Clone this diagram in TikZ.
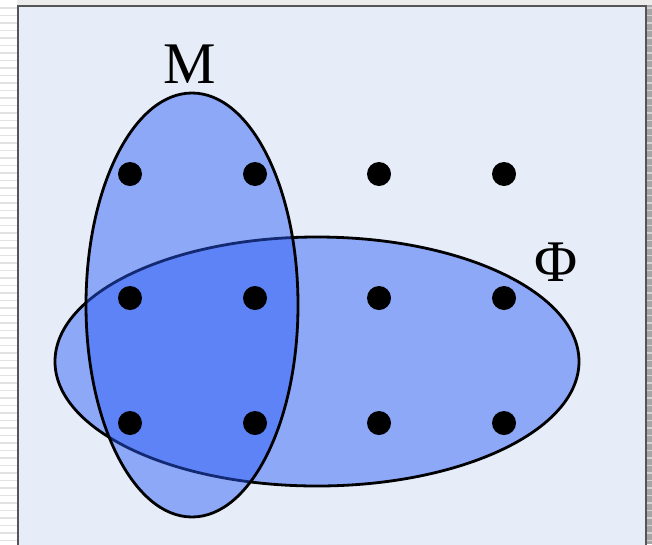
\documentclass[tikz,border=0pt]{standalone}
\usepackage{fontspec}
\setmainfont{Liberation Serif}
\usetikzlibrary{shapes.geometric}
\definecolor{panelbg}{RGB}{230,237,248}
\definecolor{panelline}{RGB}{85,85,85}
\definecolor{setblue}{RGB}{41,91,246}
\definecolor{stripe}{RGB}{226,226,226}
\tikzset{
  x=1pt, y=-1pt,
  setshape/.style={ellipse, draw=black, line width=2.8pt, fill=setblue, fill opacity=0.47, draw opacity=1, inner sep=0pt},
  pt/.style={circle, fill=black, minimum size=24pt, inner sep=0pt},
  lbl/.style={font=\fontsize{59}{62}\selectfont, inner sep=0pt}
}
\begin{document}
\begin{tikzpicture}
\useasboundingbox (0,0) rectangle (652,544);
\fill[white] (0,0) rectangle (652,544);
% left striped margin
\foreach \y in {7,14.5,...,544}{
  \fill[stripe] (0,\y) rectangle (17,\y+1.8);
}
% right striped margin
\fill[gray!70] (646,0) rectangle (652,544);
\foreach \y in {7,14.5,...,544}{
  \fill[gray!35] (647,\y) rectangle (652,\y+1.5);
}
\fill[gray!15] (17,0) rectangle (652,5);
% panel
\filldraw[fill=panelbg, draw=panelline, line width=1.6pt] (17.8,6.2) rectangle (646,560);
% sets
\node[setshape, minimum width=524pt, minimum height=249pt] (phi) at (317,361.5) {};
\node[setshape, minimum width=212pt, minimum height=424pt] (m) at (192,305) {};
% labels
\node[lbl] (mlab) at (190,64) {M};
\node[lbl] (philab) at (556,262) {Φ};
% points
\foreach \r/\yy in {1/174,2/298,3/423}{
  \foreach \c/\xx in {1/130,2/255,3/379,4/504}{
    \node[pt] (p\r\c) at (\xx,\yy) {};
  }
}
\end{tikzpicture}
\end{document}
